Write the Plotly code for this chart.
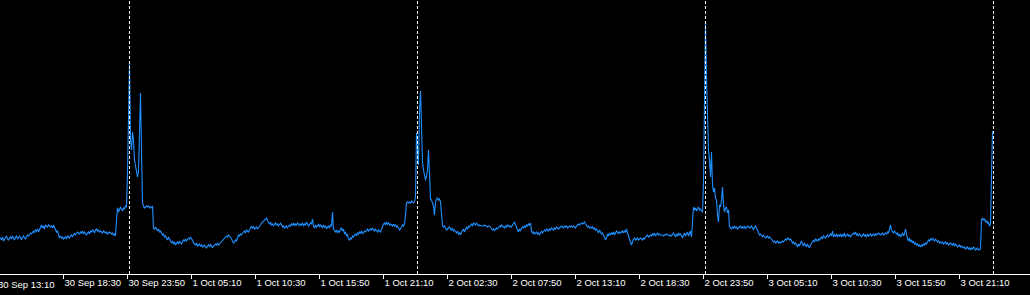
import pandas as pd
import plotly.graph_objects as go

YEAR = 2024
START = "2024-09-30 13:10"   # first M5 bar
BAR = pd.Timedelta(minutes=5)

# spread values (points), one per M5 bar
spread_sep30 = [
    36,
    36, 34, 37, 33, 35, 36, 38, 35, 34, 36,
    37, 35, 38, 36, 34, 37, 38, 35, 36, 38,
    36, 34, 37, 38, 36, 35, 37, 39, 38, 40,
    41, 40, 42, 43, 41, 44, 43, 45, 42, 44,
    47, 49, 46, 48, 45, 49, 48, 47, 49, 48,
    47, 48, 46, 49, 47, 45, 42, 43, 39, 36,
    38, 36, 37, 35, 36, 37, 35, 38, 37, 36,
    38, 39, 37, 40, 41, 39, 40, 42, 41, 40,
    42, 41, 43, 40, 42, 41, 39, 41, 42, 40,
    43, 42, 44, 43, 41, 44, 45, 43, 44, 42,
    43, 42, 41, 43, 42, 41, 42, 40, 41, 42,
    41, 40, 41, 39, 40, 38, 54, 66, 62, 64,
    67, 65, 63, 66, 65, 68, 67, 101, 172,
]

spread_oct1 = [
    211,
    134, 124, 142, 134, 114, 109, 102, 97, 102, 139,
    181, 124, 71, 68, 66, 67, 68, 67, 68, 67,
    66, 67, 68, 46, 45, 47, 44, 43, 45, 42,
    43, 41, 39, 40, 37, 38, 36, 34, 37, 35,
    33, 31, 33, 30, 32, 29, 31, 32, 30, 33,
    31, 30, 32, 34, 33, 35, 33, 34, 36, 35,
    37, 35, 34, 31, 30, 29, 31, 28, 29, 30,
    28, 29, 27, 28, 29, 27, 26, 28, 29, 27,
    30, 28, 26, 28, 29, 30, 29, 31, 29, 30,
    31, 33, 34, 35, 36, 37, 38, 37, 39, 38,
    37, 35, 33, 31, 32, 34, 33, 36, 39, 38,
    40, 39, 41, 42, 43, 41, 44, 43, 42, 44,
    47, 48, 46, 47, 45, 46, 47, 45, 46, 48,
    49, 51, 52, 53, 54, 55, 56, 53, 51, 50,
    52, 49, 50, 48, 50, 51, 49, 50, 48, 49,
    51, 49, 47, 48, 46, 47, 48, 46, 47, 49,
    48, 50, 49, 51, 48, 50, 49, 51, 50, 48,
    50, 49, 51, 48, 50, 49, 52, 50, 48, 49,
    51, 50, 55, 48, 46, 49, 47, 48, 50, 47,
    49, 48, 46, 49, 47, 48, 45, 47, 48, 46,
    49, 48, 62, 45, 43, 42, 44, 41, 43, 42,
    45, 46, 43, 45, 40, 42, 38, 40, 35, 34,
    36, 35, 38, 37, 39, 40, 38, 41, 40, 42,
    41, 43, 40, 41, 43, 42, 44, 45, 43, 44,
    45, 44, 46, 44, 43, 45, 43, 42, 44, 43,
    42, 45, 48, 50, 51, 49, 52, 50, 51, 49,
    50, 49, 48, 50, 48, 49, 47, 48, 46, 44,
    45, 47, 49, 48, 50, 59, 71, 72, 71, 72,
    71, 73, 72, 71, 72, 77, 141,
]

spread_oct2 = [
    119, 109, 161,
    183, 149, 112, 104, 99, 94, 98, 104, 124, 89,
    75, 74, 71, 68, 59, 72, 75, 76, 74, 75,
    72, 61, 49, 47, 48, 46, 44, 45, 46, 47,
    45, 44, 46, 43, 44, 42, 41, 43, 40, 41,
    39, 42, 43, 45, 42, 46, 47, 45, 48, 47,
    49, 50, 48, 51, 50, 49, 51, 50, 48, 49,
    48, 48, 48, 48, 49, 48, 48, 47, 48, 48,
    47, 46, 44, 45, 43, 45, 46, 45, 47, 48,
    47, 49, 48, 47, 46, 48, 47, 49, 48, 47,
    48, 47, 49, 51, 52, 49, 46, 44, 42, 45,
    43, 46, 47, 46, 48, 47, 49, 48, 50, 49,
    51, 43, 41, 42, 40, 41, 42, 40, 41, 39,
    42, 43, 41, 42, 44, 43, 45, 44, 43, 45,
    44, 46, 45, 44, 46, 45, 47, 46, 45, 46,
    47, 48, 47, 46, 48, 47, 48, 46, 47, 48,
    47, 48, 47, 48, 47, 46, 48, 49, 50, 49,
    50, 51, 50, 51, 52, 50, 49, 47, 48, 46,
    47, 46, 47, 45, 46, 44, 45, 43, 41, 44,
    42, 40, 41, 38, 35, 34, 36, 40, 38, 41,
    39, 41, 40, 42, 39, 41, 43, 42, 40, 42,
    41, 42, 43, 41, 43, 42, 45, 41, 37, 34,
    32, 29, 33, 35, 36, 34, 35, 36, 34, 35,
    36, 35, 34, 36, 35, 37, 38, 39, 37, 38,
    39, 38, 40, 39, 41, 38, 40, 41, 39, 40,
    39, 39, 39, 38, 39, 39, 40, 39, 39, 38,
    39, 38, 40, 41, 39, 37, 40, 38, 41, 39,
    40, 38, 36, 39, 41, 38, 40, 42, 38, 41,
    43, 37, 52, 67, 64, 66, 63, 65, 67, 64,
    65, 63, 62, 91, 186,
]

spread_oct3 = [
    252, 197, 151, 124, 114,
    97, 122, 89, 82, 86, 76, 74, 59, 52, 69,
    67, 74, 87, 69, 62, 66, 67, 61, 64, 47,
    46, 45, 47, 46, 48, 46, 47, 45, 46, 47,
    48, 46, 47, 46, 48, 45, 46, 48, 47, 46,
    47, 48, 46, 44, 47, 48, 46, 43, 41, 39,
    40, 38, 37, 39, 37, 36, 37, 38, 36, 37,
    36, 35, 34, 32, 33, 31, 32, 33, 31, 32,
    31, 32, 33, 32, 34, 35, 34, 36, 35, 34,
    35, 33, 31, 32, 30, 31, 29, 27, 30, 28,
    31, 33, 30, 28, 31, 29, 27, 30, 28, 26,
    29, 31, 33, 34, 32, 35, 34, 33, 35, 34,
    36, 37, 35, 38, 37, 36, 38, 39, 37, 38,
    40, 38, 43, 37, 39, 38, 40, 37, 39, 38,
    40, 37, 39, 38, 41, 37, 39, 40, 38, 39,
    37, 39, 40, 41, 40, 42, 39, 40, 38, 40,
    39, 37, 39, 40, 38, 39, 37, 40, 38, 39,
    40, 38, 39, 40, 38, 40, 39, 40, 41, 40,
    39, 40, 41, 39, 40, 41, 40, 42, 41, 44,
    49, 44, 42, 41, 43, 42, 40, 41, 38, 40,
    37, 39, 41, 38, 40, 45, 38, 35, 33, 36,
    32, 34, 31, 33, 30, 31, 29, 30, 28, 29,
    27, 29, 28, 30, 29, 31, 30, 32, 34, 33,
    35, 34, 36, 34, 33, 35, 34, 32, 33, 31,
    32, 31, 32, 30, 31, 32, 30, 31, 29, 30,
    31, 30, 29, 31, 28, 30, 29, 27, 28, 29,
    27, 28, 27, 26, 27, 25, 26, 27, 25, 26,
    24, 26, 25, 27, 26, 24, 25, 26, 24, 25,
    25, 54, 56, 54, 55, 52, 53, 51, 52, 48,
    50, 99, 143,
]

tick_labels = [
    "30 Sep 13:10", "30 Sep 18:30", "30 Sep 23:50", "1 Oct 05:10",
    "1 Oct 10:30", "1 Oct 15:50", "1 Oct 21:10", "2 Oct 02:30",
    "2 Oct 07:50", "2 Oct 13:10", "2 Oct 18:30", "2 Oct 23:50",
    "3 Oct 05:10", "3 Oct 10:30", "3 Oct 15:50", "3 Oct 21:10",
]

day_separators = ["2024-10-01 00:00", "2024-10-02 00:00",
                  "2024-10-03 00:00", "2024-10-04 00:00"]

# ---------------------------------------------------------------
spread = spread_sep30 + spread_oct1 + spread_oct2 + spread_oct3
times = pd.date_range(START, periods=len(spread), freq="5min")
tick_times = [pd.to_datetime(f"{t} {YEAR}", format="%d %b %H:%M %Y")
              for t in tick_labels]

WIDTH, HEIGHT = 1030, 295
BOTTOM = 21
x0 = pd.Timestamp(START) + 0.5 * BAR
x1 = x0 + WIDTH * BAR

fig = go.Figure()
fig.add_trace(go.Scatter(
    x=times, y=spread, mode="lines",
    line=dict(color="#1E90FF", width=1.1),
    hoverinfo="skip",
))

for d in day_separators:
    fig.add_shape(type="line", xref="x", yref="paper",
                  x0=d, x1=d, y0=0, y1=1, layer="above",
                  line=dict(color="white", width=1, dash="3px,2px"))

FONT = dict(family="Liberation Sans, Arial, sans-serif", size=9.5, color="white")

# first label: its tick lies just left of the visible range
fig.add_annotation(xref="paper", yref="paper", x=0, y=0,
                   xanchor="left", yanchor="top", xshift=-3, yshift=-4,
                   text=tick_labels[0], showarrow=False, font=FONT,
                   borderpad=0)

fig.update_layout(
    width=WIDTH, height=HEIGHT,
    margin=dict(l=0, r=0, t=0, b=BOTTOM, pad=0, autoexpand=False),
    paper_bgcolor="black", plot_bgcolor="black",
    showlegend=False,
    xaxis=dict(
        type="date", range=[x0, x1], showgrid=False, zeroline=False,
        showline=True, linecolor="white", linewidth=1,
        ticks="outside", ticklen=4, tickcolor="white", tickwidth=1,
        tickmode="array", tickvals=tick_times, ticktext=tick_labels,
        ticklabelposition="outside right", tickfont=FONT, tickangle=0,
        automargin=False, fixedrange=True,
    ),
    yaxis=dict(visible=False, range=[0, 274], fixedrange=True),
)

fig.write_html("out.html", config={"displayModeBar": False})
